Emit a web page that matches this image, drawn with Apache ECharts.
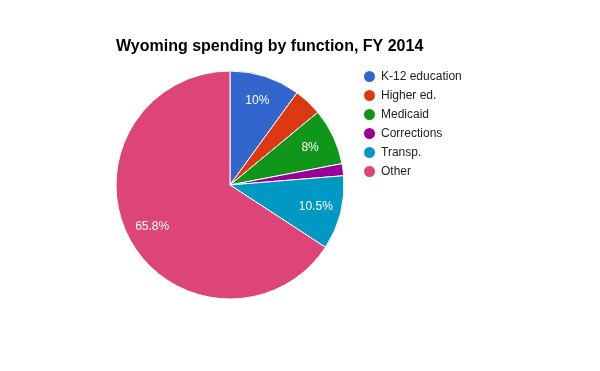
<!DOCTYPE html>
<html><head><meta charset="utf-8">
<script src="https://cdn.jsdelivr.net/npm/echarts@6/dist/echarts.min.js"></script>
<style>html,body{margin:0;padding:0;background:#fff;}#c{width:600px;height:371px;}</style>
</head><body><div id="c"></div>
<script>
const categories = ["K-12 education", "Higher ed.", "Medicaid", "Corrections", "Transp.", "Other"];
const values = [10.0, 4.0, 8.0, 1.7, 10.5, 65.8];
const colors = ["#3366cc", "#dc3912", "#109618", "#990099", "#0099c6", "#dd4477"];
const titleText = "Wyoming spending by function, FY 2014";

const total = values.reduce((a, b) => a + b, 0);
const data = categories.map((n, i) => ({ name: n, value: values[i] }));
const R = 114;
const chart = echarts.init(document.getElementById('c'), null, { renderer: 'canvas' });
chart.setOption({
  animation: false,
  color: colors,
  title: {
    text: titleText, left: 111, top: 34,
    textStyle: { fontFamily: 'Liberation Sans, Arial', fontSize: 16, fontWeight: 'bold', color: '#000' }
  },
  legend: {
    orient: 'vertical', left: 357, top: 64,
    icon: 'circle', itemWidth: 13, itemHeight: 13, itemGap: 4,
    data: categories,
    textStyle: { fontFamily: 'Liberation Sans, Arial', fontSize: 12, color: '#222' }
  },
  series: [
    {
      type: 'pie', center: [230, 185], radius: [0, R],
      startAngle: 90, clockwise: true, silent: true,
      itemStyle: { borderColor: '#fff', borderWidth: 1 },
      label: { show: false }, labelLine: { show: false },
      data: data
    },
    {
      type: 'pie', center: [230, 185], radius: [R * 0.5, R],
      startAngle: 90, clockwise: true, silent: true,
      itemStyle: { color: 'rgba(0,0,0,0)', borderWidth: 0 },
      labelLine: { show: false },
      label: {
        show: true, position: 'inside', color: '#fff',
        fontFamily: 'Liberation Sans, Arial', fontSize: 12,
        formatter: p => {
          const pct = p.value / total * 100;
          if (pct < 5) return '';
          return (Math.round(pct * 10) / 10) + '%';
        }
      },
      data: data
    }
  ]
});
</script></body></html>
